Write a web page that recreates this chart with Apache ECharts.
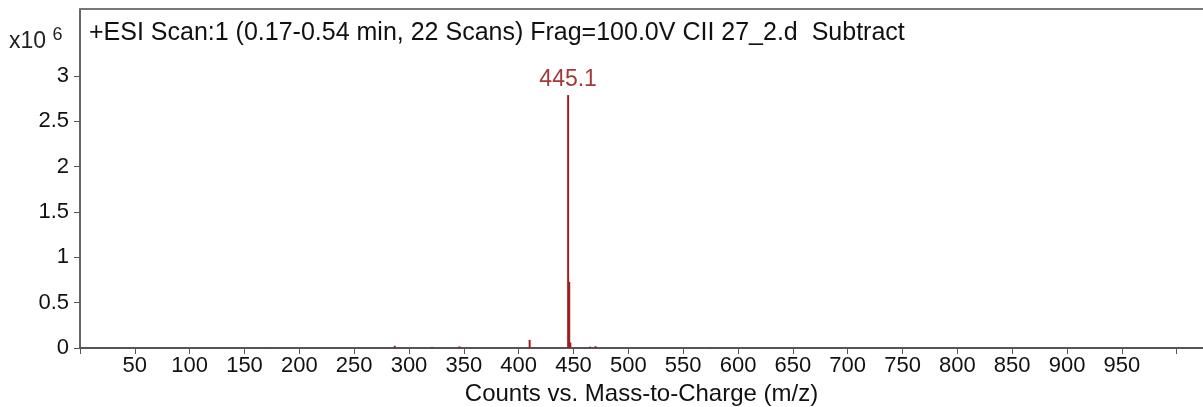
<!DOCTYPE html>
<html>
<head>
<meta charset="utf-8">
<script src="https://cdn.jsdelivr.net/npm/echarts@6/dist/echarts.min.js"></script>
<style>
html, body { margin: 0; padding: 0; background: #fff; }
#main { width: 1203px; height: 407px; }
</style>
</head>
<body>
<div id="main"></div>
<script>
// peaks (m/z, counts)
var peakMz = [173, 287, 321, 346, 410, 445.1, 446.1, 447.1, 465, 470, 575];
var peakCounts = [8000, 25000, 12000, 18000, 90000, 2790000, 730000, 60000, 15000, 20000, 9000];
var yTicks = [0, 500000, 1000000, 1500000, 2000000, 2500000, 3000000];
var xTicks = [0, 50, 100, 150, 200, 250, 300, 350, 400, 450, 500, 550, 600, 650, 700, 750, 800, 850, 900, 950, 1000];
var labelledPeak = 445.1;
var titleText = '+ESI Scan:1 (0.17-0.54 min, 22 Scans) Frag=100.0V CII 27_2.d  Subtract';

var font = 'Liberation Sans, Arial, sans-serif';
var data = [];
for (var i = 0; i < peakMz.length; i++) {
	data.push([peakMz[i], peakCounts[i]]);
}

var myChart = echarts.init(document.getElementById('main'));
var option = {
	backgroundColor: '#fff',
	animation: false,
	textStyle: { fontFamily: font },
	title: {
		text: titleText,
		left: 84,
		top: 16,
		textStyle: { fontSize: 25, fontWeight: 'normal', color: '#111', fontFamily: font }
	},
	graphic: [{
		type: 'text',
		left: 9,
		top: 26,
		style: {
			text: '{a|x10 }{b|6}',
			rich: {
				a: { fontSize: 23, fill: '#222', fontFamily: font, verticalAlign: 'bottom' },
				b: { fontSize: 18, fill: '#222', fontFamily: font, padding: [0, 0, 9, 0] }
			}
		}
	}],
	grid: { left: 80, right: 0, top: 9, bottom: 59, outerBoundsMode: 'none' },
	xAxis: [{
		type: 'value',
		min: 0,
		max: 1024,
		interval: 50,
		name: 'Counts vs. Mass-to-Charge (m/z)',
		nameLocation: 'middle',
		nameGap: 28,
		nameTextStyle: { fontSize: 24, color: '#111', fontFamily: font },
		axisLine: { show: true, lineStyle: { color: '#555', width: 2 } },
		axisTick: { show: true, length: 6, lineStyle: { color: '#555' }, customValues: xTicks },
		axisLabel: {
			fontSize: 22, color: '#111', margin: 7,
			customValues: xTicks.filter(function (v) { return v > 0 && v < 1000; })
		},
		splitLine: { show: false }
	}, {
		type: 'value',
		position: 'top',
		min: 0,
		max: 1024,
		axisLine: { show: true, lineStyle: { color: '#777', width: 2 } },
		axisTick: { show: false },
		axisLabel: { show: false },
		splitLine: { show: false }
	}],
	yAxis: {
		type: 'value',
		min: 0,
		max: 3740000,
		axisLine: { show: true, lineStyle: { color: '#333', width: 1.5 } },
		axisTick: { show: true, length: 6, lineStyle: { color: '#555' }, customValues: yTicks },
		axisLabel: {
			fontSize: 22, color: '#111', margin: 11,
			customValues: yTicks,
			formatter: function (v) { return String(v / 1000000); }
		},
		splitLine: { show: false }
	},
	series: [{
		type: 'bar',
		xAxisIndex: 0,
		barWidth: 2,
		barGap: '-100%',
		itemStyle: { color: '#9e1f1f' },
		label: {
			show: true,
			position: 'top',
			distance: 4,
			fontSize: 23,
			color: '#a33a3a',
			fontFamily: font,
			formatter: function (p) { return p.value[0] === labelledPeak ? String(labelledPeak) : ''; }
		},
		data: data
	}]
};
myChart.setOption(option);
</script>
</body>
</html>
